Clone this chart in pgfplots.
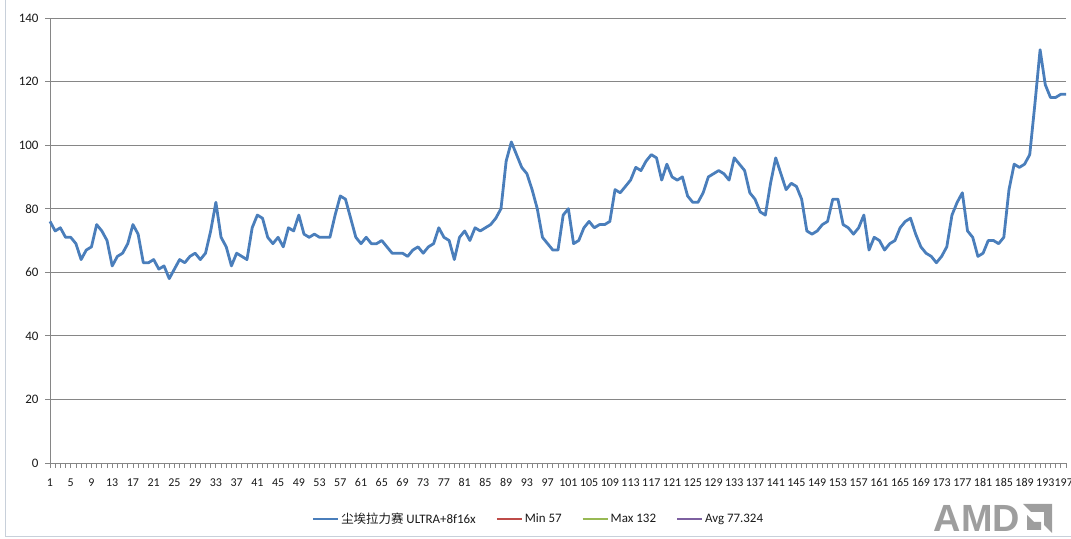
\documentclass[border=0pt]{standalone}
\usepackage{fontspec}
\setmainfont{Carlito}
\newfontfamily\cjk{Noto Sans CJK SC}
\newfontfamily\logofont{Liberation Sans}
\usepackage{pgfplots}
\usepackage{pgfplotstable}
\pgfplotsset{compat=1.18}
\definecolor{serblue}{HTML}{4A7EBB}
\definecolor{serred}{HTML}{BE4B48}
\definecolor{sergreen}{HTML}{98B954}
\definecolor{serpurple}{HTML}{7D60A0}
\definecolor{gridgray}{HTML}{868686}
\definecolor{framecol}{HTML}{C8D0DA}
\pgfplotstableread[row sep=\\]{
v\\
76\\73\\74\\71\\71\\69\\64\\67\\68\\75\\
73\\70\\62\\65\\66\\69\\75\\72\\63\\63\\
64\\61\\62\\58\\61\\64\\63\\65\\66\\64\\
66\\73\\82\\71\\68\\62\\66\\65\\64\\74\\
78\\77\\71\\69\\71\\68\\74\\73\\78\\72\\
71\\72\\71\\71\\71\\78\\84\\83\\77\\71\\
69\\71\\69\\69\\70\\68\\66\\66\\66\\65\\
67\\68\\66\\68\\69\\74\\71\\70\\64\\71\\
73\\70\\74\\73\\74\\75\\77\\80\\95\\101\\
97\\93\\91\\86\\80\\71\\69\\67\\67\\78\\
80\\69\\70\\74\\76\\74\\75\\75\\76\\86\\
85\\87\\89\\93\\92\\95\\97\\96\\89\\94\\
90\\89\\90\\84\\82\\82\\85\\90\\91\\92\\
91\\89\\96\\94\\92\\85\\83\\79\\78\\88\\
96\\91\\86\\88\\87\\83\\73\\72\\73\\75\\
76\\83\\83\\75\\74\\72\\74\\78\\67\\71\\
70\\67\\69\\70\\74\\76\\77\\72\\68\\66\\
65\\63\\65\\68\\78\\82\\85\\73\\71\\65\\
66\\70\\70\\69\\71\\86\\94\\93\\94\\97\\
113\\130\\119\\115\\115\\116\\116\\
}\fpsdata
\begin{document}
\begin{tikzpicture}[x=1bp,y=1bp]
\useasboundingbox (0,0) rectangle (1071,539);
\draw[framecol, line width=1bp] (5,539) -- (5,2) -- (1071,2);
\begin{axis}[
  at={(50bp,76bp)}, anchor=south west,
  scale only axis, width=1016bp, height=445bp,
  xmin=1, xmax=197, ymin=0, ymax=140,
  axis x line*=bottom, axis y line*=left,
  axis line style={gridgray, line width=0.8bp},
  xtick={1,5,...,193},
  extra x ticks={197},
  extra x tick style={xticklabel style={anchor=north east, xshift=7bp}},
  minor xtick={1,...,197},
  ytick={0,20,...,140},
  ymajorgrids,
  grid style={gridgray, line width=0.8bp},
  tick align=outside,
  major tick length=5bp, minor tick length=5bp,
  tick style={gridgray, line width=0.8bp},
  /pgf/number format/assume math mode=true,
  /pgf/number format/.cd, 1000 sep={}, /pgfplots/.cd,
  tick label style={font=\fontsize{12}{13}\selectfont, text=black!90},
  xticklabel style={yshift=-7bp, inner xsep=0pt},
  yticklabel style={xshift=-3bp, font=\fontsize{13}{14}\selectfont},
  clip=false,
  legend style={at={(0.481,-0.126)}, anchor=center, draw=none, fill=none,
    font=\fontsize{13}{14}\selectfont, text=black!90,
    legend columns=4,
    /tikz/every even column/.append style={column sep=18bp}},
  legend image code/.code={\draw[#1, line width=2bp] (0bp,0bp) -- (25bp,0bp);},
]
\addplot[serblue, line width=2.8bp, line join=round] table[x expr=\coordindex+1, y=v] {\fpsdata};
\addlegendentry{{\cjk\fontsize{12.5}{13}\selectfont 尘埃拉力赛} ULTRA+8f16x}
\addlegendimage{serred}
\addlegendentry{Min 57}
\addlegendimage{sergreen}
\addlegendentry{Max 132}
\addlegendimage{serpurple}
\addlegendentry{Avg 77.324}
\end{axis}
\node[font=\logofont\bfseries\fontsize{38}{38}\selectfont, text=black!38, inner sep=0pt, anchor=base] at (977,7) {AMD};
\begin{scope}[shift={(1023,6)}, x=1bp, y=1bp]
\fill[black!38] (0,29) -- (29,29) -- (29,0) -- (21,8) -- (21,21) -- (8,21) -- cycle;
\fill[black!38] (4,18) -- (4,3) -- (18,3) -- (18,11) -- (11,11) -- cycle;
\end{scope}
\end{tikzpicture}
\end{document}
